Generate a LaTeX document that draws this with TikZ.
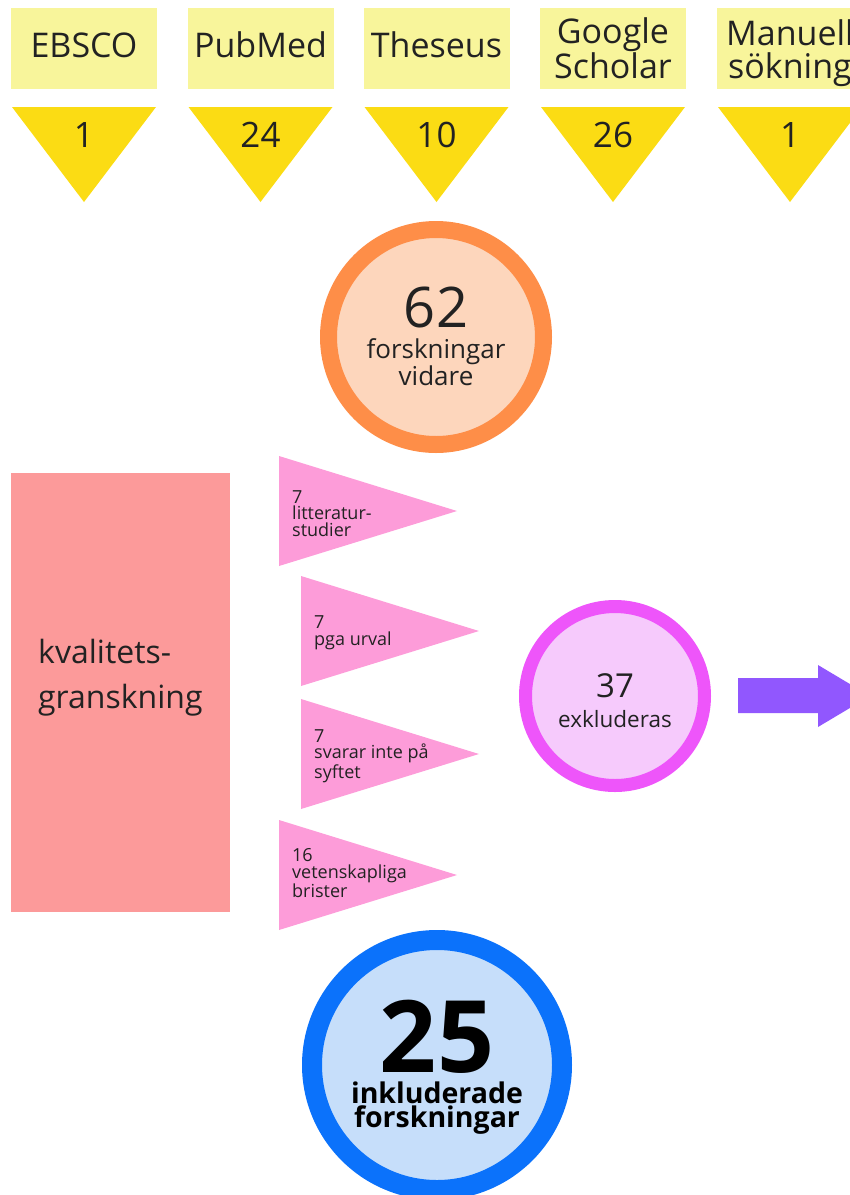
\documentclass[tikz,border=0pt]{standalone}
\usepackage{fontspec}
\setmainfont{Open Sans}
\usetikzlibrary{positioning}

\definecolor{ink}{HTML}{222222}
\definecolor{sourcefill}{HTML}{F8F59B}
\definecolor{hitfill}{HTML}{FBDC14}
\definecolor{foundring}{HTML}{FE8E48}
\definecolor{foundfill}{HTML}{FDD6BC}
\definecolor{reviewfill}{HTML}{FC9A9A}
\definecolor{reasonfill}{HTML}{FD9CD9}
\definecolor{exclring}{HTML}{EE55FA}
\definecolor{exclfill}{HTML}{F6CAFC}
\definecolor{arrowfill}{HTML}{9157FE}
\definecolor{inclring}{HTML}{0B72FB}
\definecolor{inclfill}{HTML}{C6DEFA}

\tikzset{
  source/.style={fill=sourcefill, minimum width=146, minimum height=81, inner sep=0},
  sourcename/.style={anchor=base, align=center, text=ink, font=\fontsize{34}{33}\selectfont},
  hitcount/.style={anchor=base, text=ink, font=\fontsize{35}{35}\selectfont},
  ring/.style 2 args={circle, draw=#1, fill=#2, inner sep=0},
  reason/.style={anchor=base west, align=left, inner sep=0, text=ink, font=\fontsize{18}{16.5}\selectfont},
  caption/.style={anchor=base, align=center, text=ink},
}

\begin{document}
\begin{tikzpicture}[x=1pt, y=-1pt]
  \path[use as bounding box] (0,0) rectangle (850,1195);
  \clip (0,0) rectangle (850,1195);

  % databases and hits per search (base = last line)
  \foreach \i/\x/\name/\base/\hits in {1/84/EBSCO/57/1, 2/260.5/PubMed/57/24, 3/436.5/Theseus/57/10,
      4/613/{Google\\Scholar}/78/26, 5/790/{Manuell\\sökning}/78/1} {
    \node[source] (src\i) at (\x,48.5) {};
    \node[sourcename] (srcname\i) at (\x,\base) {\name};
    \fill[hitfill] (\x-72,107) -- (\x+72,107) -- (\x,202) -- cycle;
    \node[hitcount] (hits\i) at (\x,147) {\hits};
  }

  % studies passed on
  \node[ring={foundring}{foundfill}, line width=17, minimum size=215] (found) at (436,337) {};
  \node[caption, font=\fontsize{56}{56}\selectfont] (foundnum) at (436,327) {62};
  \node[caption, font=\fontsize{26}{23}\selectfont] (foundtxt) at (436,385) {forskningar\\vidare};

  % quality review
  \node[fill=reviewfill, minimum width=219, minimum height=439, inner sep=0, anchor=north west] (review) at (11,473) {};
  \node[anchor=base west, align=left, inner sep=0, text=ink, font=\fontsize{32}{45}\selectfont] (reviewtxt) at (38,708) {kvalitets-\\granskning};

  \foreach \i/\l/\t/\txt/\base in {1/279/456/{7\\litteratur-\\studier}/536, 2/301/576/{7\\pga urval}/645,
      3/301/699/{7\\svarar inte på\\syftet}/778, 4/279/820/{16\\vetenskapliga\\brister}/897} {
    \fill[reasonfill] (\l,\t) -- (\l+178,\t+55) -- (\l,\t+110) -- cycle;
    \node[reason] (reason\i) at (\l+13,\base) {\txt};
  }

  % excluded
  \node[ring={exclring}{exclfill}, line width=13, minimum size=179] (excl) at (615,696) {};
  \node[caption, font=\fontsize{33}{33}\selectfont] (exclnum) at (615,697) {37};
  \node[caption, font=\fontsize{22.5}{22}\selectfont] (excltxt) at (615,727) {exkluderas};
  \fill[arrowfill] (738,678) -- (818,678) -- (818,665) -- (870,696) -- (818,727) -- (818,713) -- (738,713) -- cycle;

  % included
  \node[ring={inclring}{inclfill}, line width=20, minimum size=250] (incl) at (437,1065) {};
  \node[caption, font=\fontsize{100}{100}\selectfont\bfseries, text=black] (inclnum) at (437,1072) {25};
  \node[caption, font=\fontsize{28.5}{22}\selectfont\bfseries, text=black] (incltxt) at (437,1127) {inkluderade\\forskningar};
\end{tikzpicture}
\end{document}
